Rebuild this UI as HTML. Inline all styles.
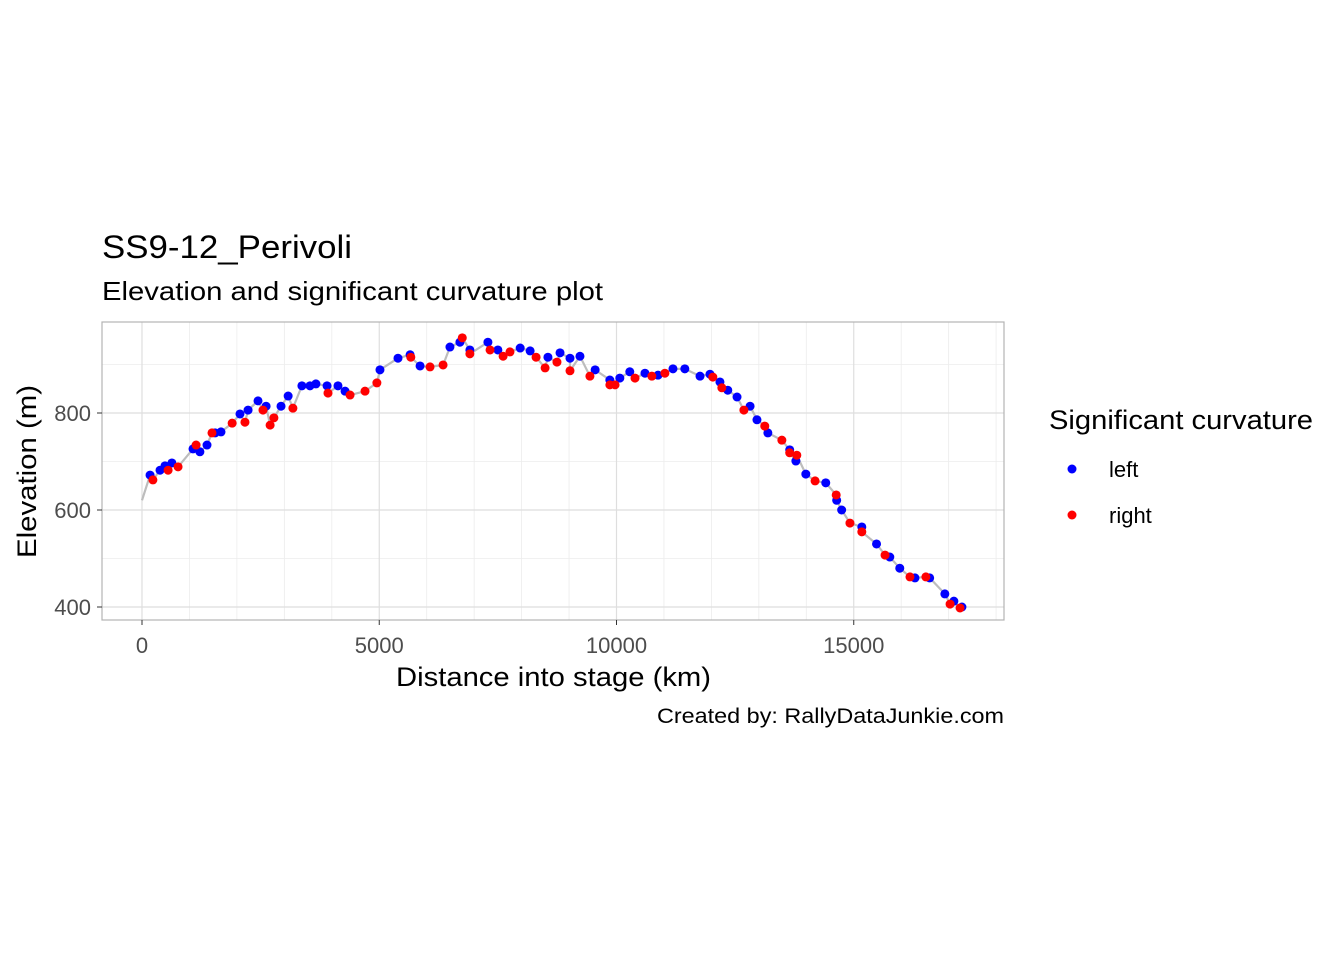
<!DOCTYPE html>
<html><head><meta charset="utf-8"><style>
body{margin:0;background:#fff;font-family:"Liberation Sans",Arial,sans-serif}
svg text{font-family:"Liberation Sans",Arial,sans-serif}
</style></head><body>
<svg width="1344" height="960" viewBox="0 0 1344 960">
<g id="grid"></g>
<g id="line"></g>
<g id="pts"></g>
<rect x="102" y="322" width="902" height="298" fill="none" stroke="#b3b3b3" stroke-width="1.2"/>
<g id="axes"></g>
<text x="102" y="258" font-size="32" textLength="250" lengthAdjust="spacingAndGlyphs" fill="#000">SS9-12_Perivoli</text>
<text x="102" y="300" font-size="26" textLength="501" lengthAdjust="spacingAndGlyphs" fill="#000">Elevation and significant curvature plot</text>
<text x="396" y="686" font-size="27" textLength="315" lengthAdjust="spacingAndGlyphs">Distance into stage (km)</text>
<text transform="translate(36,558) rotate(-90)" font-size="27" textLength="173" lengthAdjust="spacingAndGlyphs">Elevation (m)</text>
<text x="657" y="723" font-size="21" textLength="347" lengthAdjust="spacingAndGlyphs">Created by: RallyDataJunkie.com</text>
<g>
<text x="1049" y="429" font-size="27" textLength="264" lengthAdjust="spacingAndGlyphs">Significant curvature</text>
<g><circle cx="1072" cy="469" r="4.5" fill="#0000ff"/><text x="1109" y="477" font-size="22">left</text></g>
<g><circle cx="1072" cy="515" r="4.5" fill="#ff0000"/><text x="1109" y="523" font-size="22">right</text></g>
</g>
</svg>
<script>
const leftD=[170,380,485,630,1075,1220,1370,1540,1665,2065,2235,2445,2615,2930,3080,3370,3540,3665,3900,4130,4280,5015,5395,5650,5860,6490,6700,6910,7290,7500,7970,8180,8555,8810,9020,9230,9550,9860,10070,10280,10600,10875,11190,11440,11760,11970,12180,12345,12540,12815,12960,13190,13650,13780,13990,14410,14640,14745,15170,15480,15760,15970,16290,16600,16920,17110,17280];
const leftE=[672,682,691,697,726,720,734,759,761,798,806,825,814,814,835,856,856,860,856,856,845,889,913,920,897,936,946,930,946,930,934,928,915,924,913,917,889,868,872,885,882,878,891,891,876,880,864,847,833,814,786,759,724,701,674,656,620,600,565,530,503,480,460,460,427,412,400];
const rightD=[230,550,760,1140,1475,1900,2170,2550,2700,2780,3180,3920,4385,4700,4950,5665,6070,6345,6750,6910,7335,7610,7755,8305,8495,8745,9020,9440,9860,9970,10390,10745,11020,12030,12220,12685,13125,13485,13650,13800,14185,14630,14920,15170,15660,16185,16520,17030,17240];
const rightE=[662,682,689,734,759,779,781,806,775,790,810,841,837,845,862,915,895,899,955,922,930,917,926,915,893,905,887,876,858,858,872,876,882,874,852,806,773,744,718,713,660,631,573,555,507,462,462,406,398];
const xTicks=[0,5000,10000,15000];
const yTicks=[400,600,800];
const NS='http://www.w3.org/2000/svg';
const X=d=>142+d*0.04745, Y=e=>413-(e-800)*0.485;
function mk(t,a,p){const el=document.createElementNS(NS,t);for(const k in a)el.setAttribute(k,a[k]);p.appendChild(el);return el;}
const grid=document.getElementById('grid');
for(let d=0;d<=18000;d+=1000){if(xTicks.includes(d))continue;const l=mk('line',{x1:X(d),x2:X(d),y1:322,y2:620,stroke:'#ececec','stroke-width':0.8},grid);}
for(const e of [500,700,900]){const l=mk('line',{x1:102,x2:1004,y1:Y(e),y2:Y(e),stroke:'#ececec','stroke-width':0.8},grid);}
const axes=document.getElementById('axes');
xTicks.forEach(d=>{const l=mk('line',{x1:X(d),x2:X(d),y1:322,y2:620,stroke:'#dedede','stroke-width':1.2},grid);
mk('line',{x1:X(d),x2:X(d),y1:620,y2:625,stroke:'#333'},axes);
const t=mk('text',{x:X(d),y:653,'font-size':22,fill:'#4d4d4d','text-anchor':'middle'},axes);t.textContent=d;});
yTicks.forEach(e=>{const l=mk('line',{x1:102,x2:1004,y1:Y(e),y2:Y(e),stroke:'#dedede','stroke-width':1.2},grid);
mk('line',{x1:97,x2:102,y1:Y(e),y2:Y(e),stroke:'#333'},axes);
const t=mk('text',{x:91,y:Y(e)+8,'font-size':22,fill:'#4d4d4d','text-anchor':'end'},axes);t.textContent=e;});
const all=[[0,620]];leftD.forEach((d,i)=>all.push([d,leftE[i]]));rightD.forEach((d,i)=>all.push([d,rightE[i]]));all.sort((a,b)=>a[0]-b[0]);
const p=mk('path',{d:'M'+all.map(q=>X(q[0]).toFixed(1)+','+Y(q[1]).toFixed(1)).join('L'),fill:'none',stroke:'#bdbdbd','stroke-width':2.2},document.getElementById('line'));

const pts=document.getElementById('pts');
leftD.forEach((d,i)=>{const c=mk('circle',{cx:X(d),cy:Y(leftE[i]),r:4.5,fill:'#0000ff'},pts);});
rightD.forEach((d,i)=>{const c=mk('circle',{cx:X(d),cy:Y(rightE[i]),r:4.5,fill:'#ff0000'},pts);});
</script>
</body></html>
